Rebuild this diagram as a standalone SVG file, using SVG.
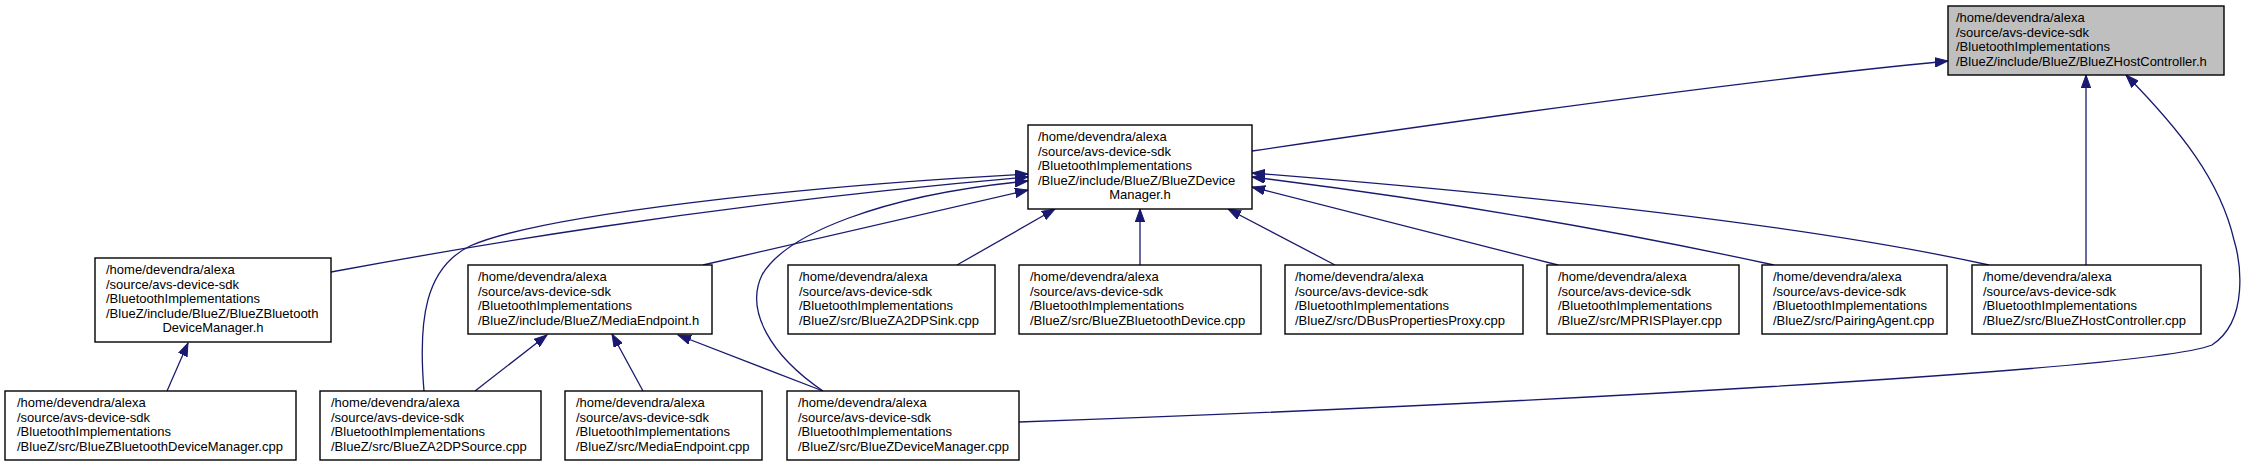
<svg xmlns="http://www.w3.org/2000/svg" width="2244" height="467" viewBox="0 0 2244 467">
<defs>
<style>
.nb{fill:#ffffff;stroke:#000000;stroke-width:1.4}
.ng{fill:#bfbfbf;stroke:#000000;stroke-width:1.4}
.t{font-family:"Liberation Sans",Arial,Helvetica,sans-serif;font-size:13px;fill:#000000}
.c{text-anchor:middle}
.e{fill:none;stroke:#191970;stroke-width:1.3;marker-end:url(#ah)}
</style>
<marker id="ah" markerUnits="userSpaceOnUse" markerWidth="14" markerHeight="10" viewBox="0 0 14 10" refX="13" refY="5" orient="auto">
<path d="M0,0.3 L13,5 L0,9.7 z" fill="#191970" stroke="#191970" stroke-width="1"/>
</marker>
</defs>
<rect x="0" y="0" width="2244" height="467" fill="#ffffff"/>

<g id="connectors">
<path class="e" d="M1252,151 Q1700,85 1948,61"/>
<path class="e" d="M2086,265 L2086,75"/>
<path class="e" d="M1019,422 C1500,405 2150,370 2212,345 C2250,320 2240,260 2234,240 C2220,180 2180,130 2126,75"/>
<path class="e" d="M331,272 C450,250 700,205 1028,177"/>
<path class="e" d="M424,391 C418,320 425,268 470,246 C540,215 800,186 1028,174"/>
<path class="e" d="M703,265 L1028,190"/>
<path class="e" d="M823,391 C770,355 745,310 762,275 C785,235 880,195 1028,181"/>
<path class="e" d="M957,265 L1055,209"/>
<path class="e" d="M1140,265 L1140,209"/>
<path class="e" d="M1335,265 L1228,209"/>
<path class="e" d="M1558,265 L1252,187"/>
<path class="e" d="M1774,265 Q1520,210 1252,177"/>
<path class="e" d="M1989,265 Q1753,213 1252,173"/>
<path class="e" d="M167,391 L188,343"/>
<path class="e" d="M475,391 L547,335"/>
<path class="e" d="M643,391 L612,334"/>
<path class="e" d="M823,391 L678,335"/>
</g>

<g id="node-BlueZHostController-h">
<rect class="ng" x="1948" y="6" width="276" height="69"/>
<text class="t" x="1956" y="22">/home/devendra/alexa</text>
<text class="t" x="1956" y="36.5">/source/avs-device-sdk</text>
<text class="t" x="1956" y="51">/BluetoothImplementations</text>
<text class="t" x="1956" y="65.5">/BlueZ/include/BlueZ/BlueZHostController.h</text>
</g>

<g id="node-BlueZDeviceManager-h">
<rect class="nb" x="1028" y="125" width="224" height="84"/>
<text class="t" x="1038" y="141">/home/devendra/alexa</text>
<text class="t" x="1038" y="155.5">/source/avs-device-sdk</text>
<text class="t" x="1038" y="170">/BluetoothImplementations</text>
<text class="t" x="1038" y="184.5">/BlueZ/include/BlueZ/BlueZDevice</text>
<text class="t c" x="1140" y="199">Manager.h</text>
</g>

<g id="node-BlueZBluetoothDeviceManager-h">
<rect class="nb" x="95" y="258" width="236" height="84"/>
<text class="t" x="106" y="274">/home/devendra/alexa</text>
<text class="t" x="106" y="288.5">/source/avs-device-sdk</text>
<text class="t" x="106" y="303">/BluetoothImplementations</text>
<text class="t" x="106" y="317.5">/BlueZ/include/BlueZ/BlueZBluetooth</text>
<text class="t c" x="213" y="332">DeviceManager.h</text>
</g>

<g id="node-MediaEndpoint-h">
<rect class="nb" x="468" y="265" width="244" height="69"/>
<text class="t" x="478" y="281">/home/devendra/alexa</text>
<text class="t" x="478" y="295.5">/source/avs-device-sdk</text>
<text class="t" x="478" y="310">/BluetoothImplementations</text>
<text class="t" x="478" y="324.5">/BlueZ/include/BlueZ/MediaEndpoint.h</text>
</g>

<g id="node-BlueZA2DPSink-cpp">
<rect class="nb" x="788" y="265" width="207" height="69"/>
<text class="t" x="799" y="281">/home/devendra/alexa</text>
<text class="t" x="799" y="295.5">/source/avs-device-sdk</text>
<text class="t" x="799" y="310">/BluetoothImplementations</text>
<text class="t" x="799" y="324.5">/BlueZ/src/BlueZA2DPSink.cpp</text>
</g>

<g id="node-BlueZBluetoothDevice-cpp">
<rect class="nb" x="1019" y="265" width="242" height="69"/>
<text class="t" x="1030" y="281">/home/devendra/alexa</text>
<text class="t" x="1030" y="295.5">/source/avs-device-sdk</text>
<text class="t" x="1030" y="310">/BluetoothImplementations</text>
<text class="t" x="1030" y="324.5">/BlueZ/src/BlueZBluetoothDevice.cpp</text>
</g>

<g id="node-DBusPropertiesProxy-cpp">
<rect class="nb" x="1285" y="265" width="238" height="69"/>
<text class="t" x="1295" y="281">/home/devendra/alexa</text>
<text class="t" x="1295" y="295.5">/source/avs-device-sdk</text>
<text class="t" x="1295" y="310">/BluetoothImplementations</text>
<text class="t" x="1295" y="324.5">/BlueZ/src/DBusPropertiesProxy.cpp</text>
</g>

<g id="node-MPRISPlayer-cpp">
<rect class="nb" x="1547" y="265" width="192" height="69"/>
<text class="t" x="1558" y="281">/home/devendra/alexa</text>
<text class="t" x="1558" y="295.5">/source/avs-device-sdk</text>
<text class="t" x="1558" y="310">/BluetoothImplementations</text>
<text class="t" x="1558" y="324.5">/BlueZ/src/MPRISPlayer.cpp</text>
</g>

<g id="node-PairingAgent-cpp">
<rect class="nb" x="1762" y="265" width="185" height="69"/>
<text class="t" x="1773" y="281">/home/devendra/alexa</text>
<text class="t" x="1773" y="295.5">/source/avs-device-sdk</text>
<text class="t" x="1773" y="310">/BluetoothImplementations</text>
<text class="t" x="1773" y="324.5">/BlueZ/src/PairingAgent.cpp</text>
</g>

<g id="node-BlueZHostController-cpp">
<rect class="nb" x="1972" y="265" width="229" height="69"/>
<text class="t" x="1983" y="281">/home/devendra/alexa</text>
<text class="t" x="1983" y="295.5">/source/avs-device-sdk</text>
<text class="t" x="1983" y="310">/BluetoothImplementations</text>
<text class="t" x="1983" y="324.5">/BlueZ/src/BlueZHostController.cpp</text>
</g>

<g id="node-BlueZBluetoothDeviceManager-cpp">
<rect class="nb" x="5" y="391" width="291" height="69"/>
<text class="t" x="17" y="407">/home/devendra/alexa</text>
<text class="t" x="17" y="421.5">/source/avs-device-sdk</text>
<text class="t" x="17" y="436">/BluetoothImplementations</text>
<text class="t" x="17" y="450.5">/BlueZ/src/BlueZBluetoothDeviceManager.cpp</text>
</g>

<g id="node-BlueZA2DPSource-cpp">
<rect class="nb" x="320" y="391" width="221" height="69"/>
<text class="t" x="331" y="407">/home/devendra/alexa</text>
<text class="t" x="331" y="421.5">/source/avs-device-sdk</text>
<text class="t" x="331" y="436">/BluetoothImplementations</text>
<text class="t" x="331" y="450.5">/BlueZ/src/BlueZA2DPSource.cpp</text>
</g>

<g id="node-MediaEndpoint-cpp">
<rect class="nb" x="565" y="391" width="197" height="69"/>
<text class="t" x="576" y="407">/home/devendra/alexa</text>
<text class="t" x="576" y="421.5">/source/avs-device-sdk</text>
<text class="t" x="576" y="436">/BluetoothImplementations</text>
<text class="t" x="576" y="450.5">/BlueZ/src/MediaEndpoint.cpp</text>
</g>

<g id="node-BlueZDeviceManager-cpp">
<rect class="nb" x="787" y="391" width="232" height="69"/>
<text class="t" x="798" y="407">/home/devendra/alexa</text>
<text class="t" x="798" y="421.5">/source/avs-device-sdk</text>
<text class="t" x="798" y="436">/BluetoothImplementations</text>
<text class="t" x="798" y="450.5">/BlueZ/src/BlueZDeviceManager.cpp</text>
</g>
</svg>
